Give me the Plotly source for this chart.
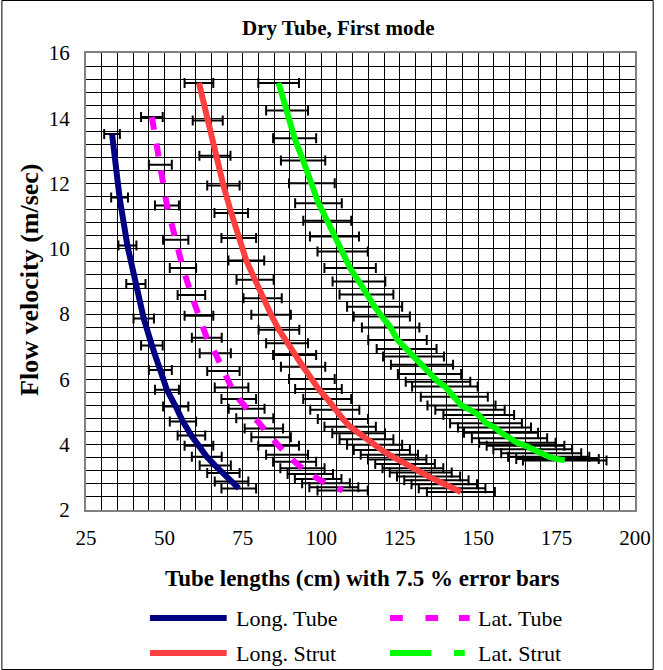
import plotly.graph_objects as go

# ---------------- data ----------------
long_tube_len = [33.3, 35.7, 38.2, 40.9, 43.4, 46.0, 48.7, 50.8, 53.6, 55.9, 58.6,
                 61.0, 63.5, 66.2, 68.8, 71.4, 73.7]
long_tube_vel = [13.52, 11.57, 10.10, 8.92, 7.87, 7.04, 6.29, 5.68, 5.17, 4.71, 4.28,
                 3.97, 3.63, 3.36, 3.13, 2.87, 2.66]

lat_tube_len = [46.0, 48.7, 50.8, 53.6, 55.9, 58.6, 61.0, 63.5, 66.2, 68.8, 71.4, 73.7,
                76.2, 78.8, 81.7, 84.0, 86.4, 89.1, 91.5, 94.0, 96.5, 99.0, 101.5, 104.0, 106.8]
lat_tube_vel = [14.04, 12.58, 11.33, 10.28, 9.41, 8.59, 7.95, 7.28, 6.80, 6.26, 5.75, 5.40,
                5.10, 4.81, 4.50, 4.23, 3.97, 3.69, 3.48, 3.28, 3.10, 2.95, 2.82, 2.70, 2.60]

long_strut_len = [61.0, 63.8, 66.1, 68.8, 71.3, 73.7, 76.1, 78.9, 81.3, 84.0, 86.5, 89.1,
                  91.5, 94.2, 97.0, 99.1, 101.9, 104.3, 106.9, 109.2, 111.9, 114.4, 117.0,
                  119.3, 121.7, 124.2, 126.7, 129.2, 131.7, 134.2, 136.7, 139.2, 141.7, 144.5]
long_strut_vel = [15.08, 13.93, 12.85, 11.94, 11.10, 10.33, 9.64, 9.05, 8.49, 7.98, 7.52, 7.11,
                  6.75, 6.39, 6.01, 5.71, 5.40, 5.07, 4.79, 4.55, 4.35, 4.17, 4.00,
                  3.84, 3.69, 3.55, 3.41, 3.28, 3.15, 3.03, 2.91, 2.79, 2.67, 2.55]

lat_strut_len = [86.4, 89.1, 91.5, 94.2, 97.0, 99.1, 101.9, 104.2, 106.8, 109.2, 112.0, 114.4,
                 117.0, 119.3, 122.1, 124.3, 127.2, 129.4, 132.1, 134.5, 137.2, 139.4, 142.4,
                 144.7, 147.4, 150.2, 152.5, 155.2, 157.3, 160.0, 162.5, 165.1, 167.4, 170.1,
                 172.5, 175.3, 177.6]
lat_strut_vel = [15.08, 14.24, 13.39, 12.71, 12.01, 11.40, 10.86, 10.38, 9.92, 9.41, 9.00, 8.60,
                 8.23, 7.93, 7.59, 7.21, 6.93, 6.70, 6.45, 6.17, 5.93, 5.78, 5.47,
                 5.20, 5.07, 4.91, 4.66, 4.53, 4.37, 4.20, 4.06, 3.97, 3.86, 3.74,
                 3.63, 3.56, 3.52]

series_names = ["Long. Tube", "Lat. Tube", "Long. Strut", "Lat. Strut"]
error_percent = 7.5

x_tick_vals = [25, 50, 75, 100, 125, 150, 175, 200]
y_tick_vals = [2, 4, 6, 8, 10, 12, 14, 16]

# ---------------- styling ----------------
FONT = "Liberation Serif"
W, H = 663, 670
ML, MR, MT, MB = 86, 19, 53, 160
PW, PH = W - ML - MR, H - MT - MB

def px_x(px):
    return (px - ML) / PW

def px_y(py):
    return (H - MB - py) / PH

colors = ["#000080", "#FF00FF", "#FF4040", "#00FF00"]
dashes = ["solid", "13px,14px", "solid", "solid"]

fig = go.Figure()
data = [(long_tube_len, long_tube_vel), (lat_tube_len, lat_tube_vel),
        (long_strut_len, long_strut_vel), (lat_strut_len, lat_strut_vel)]
for (xs, ys), name, c, d in zip(data, series_names, colors, dashes):
    fig.add_trace(go.Scatter(
        x=xs, y=ys, mode="lines", name=name,
        line=dict(color=c, width=6, dash=d),
        error_x=dict(type="percent", value=error_percent, color="black",
                     thickness=2, width=5),
        showlegend=False,
    ))

fig.update_layout(
    width=W, height=H,
    margin=dict(l=ML, r=MR, t=MT, b=MB),
    paper_bgcolor="white", plot_bgcolor="white",
    font=dict(family=FONT, color="black", size=21),
    showlegend=False,
)
fig.update_xaxes(
    range=[25, 200], tickvals=x_tick_vals, ticks="",
    showgrid=True, gridcolor="black", gridwidth=1,
    minor=dict(dtick=5, showgrid=True, gridcolor="black", gridwidth=1),
    showline=True, linecolor="#808080", linewidth=2, mirror=True,
    zeroline=False, tickfont=dict(size=21), ticklabelstandoff=8,
)
fig.update_yaxes(
    range=[2, 16], tickvals=y_tick_vals, ticks="",
    showgrid=True, gridcolor="black", gridwidth=1,
    minor=dict(dtick=0.4, tick0=2, showgrid=True, gridcolor="black", gridwidth=1),
    showline=True, linecolor="#808080", linewidth=2, mirror=True,
    zeroline=False, tickfont=dict(size=21), ticklabelstandoff=10,
)

annotations = [
    dict(text="<b>Dry Tube, First mode</b>", x=px_x(343), y=px_y(28),
         font=dict(size=21)),
    dict(text="<b>Tube lengths (cm) with 7.5 % error bars</b>", x=px_x(367), y=px_y(578),
         font=dict(size=23)),
    dict(text="<b>Flow velocity (m/sec)</b>", x=px_x(28), y=px_y(280),
         font=dict(size=26), textangle=-90),
]
# legend (manual, two columns)
leg_rows = [618, 618, 653, 653]
leg_line_x = [(151, 229), (395, 475), (151, 229), (395, 475)]
leg_text_x = [236, 482, 236, 482]
shapes = []
for i, name in enumerate(series_names):
    y0 = px_y(leg_rows[i])
    annotations.append(dict(text=name, x=px_x(leg_text_x[i]), y=y0, xanchor="left",
                            font=dict(size=22)))
    x0, x1 = leg_line_x[i]
    if i == 1:
        segs = [(395, 408), (431, 444), (465, 476)]
    elif i == 3:
        segs = [(395, 437), (460, 471)]
    else:
        segs = [(x0, x1)]
    for a, b in segs:
        shapes.append(dict(type="line", xref="paper", yref="paper",
                           x0=px_x(a), x1=px_x(b), y0=y0, y1=y0,
                           line=dict(color=colors[i], width=6)))
for a in annotations:
    a.update(xref="paper", yref="paper", showarrow=False)
    a.setdefault("xanchor", "center")
    a.setdefault("yanchor", "middle")

# outer chart border
shapes.append(dict(type="rect", xref="paper", yref="paper",
                   x0=px_x(0.5), x1=px_x(662.5), y0=px_y(0.5), y1=px_y(669.5),
                   line=dict(color="black", width=1)))
fig.update_layout(annotations=annotations, shapes=shapes)

fig.write_html("out.html")
